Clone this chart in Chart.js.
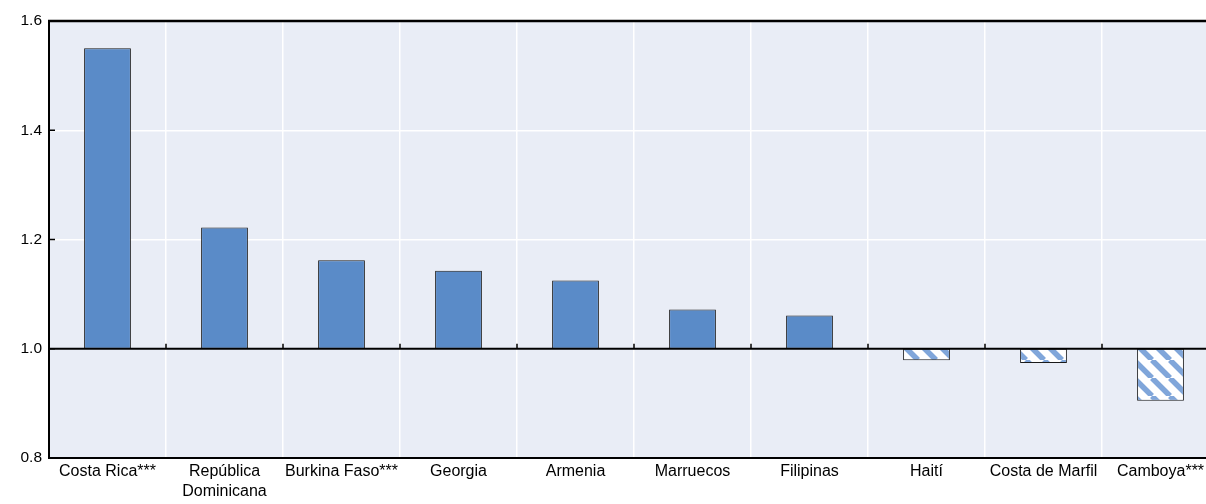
<!DOCTYPE html>
<html>
<head>
<meta charset="utf-8">
<script src="https://cdn.jsdelivr.net/npm/chart.js@4.4.0/dist/chart.umd.min.js"></script>
<style>
  html, body { margin: 0; padding: 0; background: #fff; overflow: hidden; }
  #wrap { width: 1219px; height: 504px; }
</style>
</head>
<body>
<div id="wrap"><canvas id="chart"></canvas></div>
<script>
const categories = ["Costa Rica***", ["República", "Dominicana"], "Burkina Faso***", "Georgia", "Armenia",
  "Marruecos", "Filipinas", "Haití", "Costa de Marfil", "Camboya***"];
const values = [1.55, 1.222, 1.162, 1.143, 1.125, 1.072, 1.061, 0.979, 0.974, 0.905];
const baseline = 1.0;
const yMin = 0.8, yMax = 1.6, yStep = 0.2;

const BLUE = "#5a8bc8";
const HATCH = "#80a6da";
const PLOT_BG = "#e9edf6";
const FONT = "'Liberation Sans', Arial, sans-serif";

function makeHatch() {
  const s = 18;
  const c = document.createElement("canvas");
  c.width = s; c.height = s;
  const g = c.getContext("2d");
  g.fillStyle = "#fff";
  g.fillRect(0, 0, s, s);
  g.strokeStyle = HATCH;
  g.lineWidth = 5.5;
  g.beginPath();
  [-s, 0, s].forEach((k) => { g.moveTo(k, 0); g.lineTo(k + s, s); });
  g.stroke();
  return g.createPattern(c, "repeat");
}
const hatch = makeHatch();

// background + frame, baseline and small ticks
const decor = {
  id: "decor",
  beforeDraw(chart) {
    const a = chart.chartArea, ctx = chart.ctx;
    ctx.save();
    ctx.fillStyle = PLOT_BG;
    ctx.fillRect(a.left, a.top, a.right - a.left, a.bottom - a.top);
    ctx.restore();
  },
  afterDatasetsDraw(chart) {
    const a = chart.chartArea, ctx = chart.ctx;
    const y = chart.scales.y, x = chart.scales.x;
    const y0 = y.getPixelForValue(baseline);
    ctx.save();
    ctx.strokeStyle = "#000";
    // baseline
    ctx.lineWidth = 2;
    ctx.beginPath();
    ctx.moveTo(a.left, y0); ctx.lineTo(a.right, y0);
    ctx.stroke();
    // ticks on baseline at category boundaries
    ctx.lineWidth = 1.5;
    ctx.beginPath();
    for (let i = 1; i < categories.length; i++) {
      const px = (x.getPixelForValue(i - 1) + x.getPixelForValue(i)) / 2;
      ctx.moveTo(px, y0); ctx.lineTo(px, y0 - 5);
    }
    // ticks on left axis
    for (let v = yMin + yStep; v < yMax - 1e-9; v += yStep) {
      const py = y.getPixelForValue(v);
      ctx.moveTo(a.left, py); ctx.lineTo(a.left + 6, py);
    }
    ctx.stroke();
    // top frame
    ctx.lineWidth = 2.5;
    ctx.beginPath();
    ctx.moveTo(a.left - 1, a.top); ctx.lineTo(a.right, a.top);
    ctx.stroke();
    ctx.restore();
  }
};

new Chart(document.getElementById("chart"), {
  type: "bar",
  data: {
    labels: categories,
    datasets: [{
      data: values.map((v) => [baseline, v]),
      backgroundColor: (c) => (values[c.dataIndex] < baseline ? hatch : BLUE),
      borderColor: "#1a1a1a",
      borderWidth: 1,
      borderSkipped: false,
      barPercentage: 0.4,
      categoryPercentage: 1.0
    }]
  },
  options: {
    responsive: true,
    maintainAspectRatio: false,
    animation: false,
    layout: { padding: { top: 21, right: 0, left: 0, bottom: 0 } },
    plugins: { legend: { display: false }, tooltip: { enabled: false } },
    scales: {
      x: {
        grid: { offset: true, color: "#fff", lineWidth: 1.5, drawTicks: false },
        border: { color: "#000", width: 2 },
        ticks: { color: "#000", font: { family: FONT, size: 16, lineHeight: 1.25 }, padding: 4, maxRotation: 0, autoSkip: false },
        afterFit(s) { s.height = 46; }
      },
      y: {
        min: yMin, max: yMax,
        grid: {
          color: (c) => (c.tick && (Math.abs(c.tick.value - 1.2) < 1e-6 || Math.abs(c.tick.value - 1.4) < 1e-6) ? "#fff" : "rgba(0,0,0,0)"),
          lineWidth: 1.5, drawTicks: false
        },
        border: { color: "#000", width: 2 },
        ticks: {
          stepSize: yStep, color: "#000", font: { family: FONT, size: 15.5 }, padding: 7,
          callback: (v) => Number(v).toFixed(1)
        },
        afterFit(s) { s.width = 49; }
      }
    }
  },
  plugins: [decor]
});
</script>
</body>
</html>
